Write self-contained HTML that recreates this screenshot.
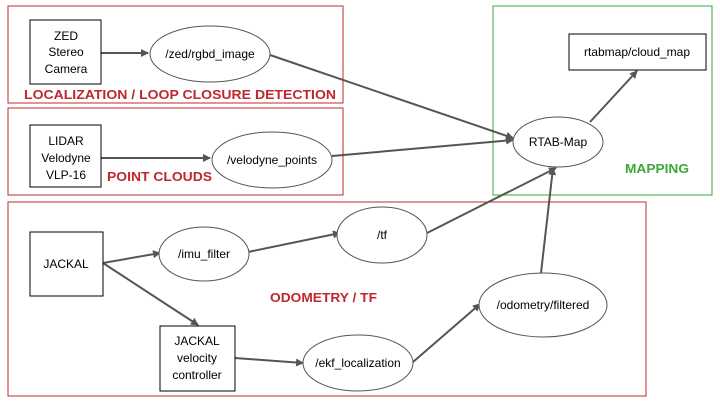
<!DOCTYPE html>
<html><head><meta charset="utf-8"><style>
html,body{margin:0;padding:0;background:#fff;}
svg{display:block;}
text{font-family:"Liberation Sans",sans-serif;}
.n{font-size:12px;fill:#000;}
.r{font-size:12.5px;font-weight:bold;fill:#c0282d;}
.g{font-size:12.5px;font-weight:bold;fill:#3aaa3a;}
.e{fill:#fff;stroke:#555;stroke-width:1;}
.b{fill:#fff;stroke:#000;stroke-width:1;}
.a{stroke:#555;stroke-width:2;fill:none;marker-end:url(#ar);}
</style></head><body>
<svg width="720" height="405" viewBox="0 0 720 405">
<defs><marker id="ar" markerWidth="8" markerHeight="8" refX="7" refY="4" orient="auto" markerUnits="userSpaceOnUse"><path d="M0,0 L8,4 L0,8 z" fill="#555"/></marker></defs>
<rect x="8" y="6" width="335" height="97" fill="none" stroke="#c0282d"/>
<rect x="8" y="108" width="335" height="87" fill="none" stroke="#c0282d"/>
<rect x="8" y="202" width="638" height="194" fill="none" stroke="#c0282d"/>
<rect x="493" y="6" width="219" height="189" fill="none" stroke="#3aaa3a"/>

<line class="a" x1="101" y1="53" x2="148" y2="53"/>
<line class="a" x1="270" y1="55" x2="513" y2="138"/>
<line class="a" x1="101" y1="158" x2="210" y2="158"/>
<line class="a" x1="332" y1="156" x2="513" y2="140"/>
<line class="a" x1="590" y1="122" x2="637" y2="71"/>
<line class="a" x1="103" y1="263" x2="160" y2="253"/>
<line class="a" x1="103" y1="263" x2="198" y2="325"/>
<line class="a" x1="248" y1="252" x2="340" y2="233"/>
<line class="a" x1="427" y1="233" x2="556" y2="168"/>
<line class="a" x1="541" y1="273" x2="553" y2="168"/>
<line class="a" x1="235" y1="358" x2="303" y2="363"/>
<line class="a" x1="413" y1="362" x2="480" y2="304"/>

<rect class="b" x="30" y="20" width="71" height="64"/>
<text class="n" text-anchor="middle" x="66" y="40">ZED</text>
<text class="n" text-anchor="middle" x="66" y="56">Stereo</text>
<text class="n" text-anchor="middle" x="66" y="73">Camera</text>
<ellipse class="e" cx="210" cy="54" rx="60" ry="28"/>
<text class="n" text-anchor="middle" x="210" y="58">/zed/rgbd_image</text>

<rect class="b" x="30" y="125" width="71" height="62"/>
<text class="n" text-anchor="middle" x="66" y="145">LIDAR</text>
<text class="n" text-anchor="middle" x="66" y="162">Velodyne</text>
<text class="n" text-anchor="middle" x="66" y="179">VLP-16</text>
<ellipse class="e" cx="272" cy="160" rx="60" ry="28"/>
<text class="n" text-anchor="middle" x="272" y="164">/velodyne_points</text>

<ellipse class="e" cx="558" cy="142" rx="45" ry="25"/>
<text class="n" text-anchor="middle" x="558" y="146">RTAB-Map</text>
<rect class="b" x="569" y="34" width="137" height="36"/>
<text class="n" text-anchor="middle" x="637" y="56">rtabmap/cloud_map</text>

<rect class="b" x="30" y="232" width="73" height="64"/>
<text class="n" text-anchor="middle" x="66" y="268">JACKAL</text>
<ellipse class="e" cx="204" cy="254" rx="45" ry="27"/>
<text class="n" text-anchor="middle" x="204" y="258">/imu_filter</text>
<ellipse class="e" cx="382" cy="235" rx="45" ry="28"/>
<text class="n" text-anchor="middle" x="382" y="239">/tf</text>
<ellipse class="e" cx="543" cy="305" rx="64" ry="32"/>
<text class="n" text-anchor="middle" x="543" y="309">/odometry/filtered</text>
<rect class="b" x="160" y="326" width="75" height="65"/>
<text class="n" text-anchor="middle" x="197" y="345">JACKAL</text>
<text class="n" text-anchor="middle" x="197" y="362">velocity</text>
<text class="n" text-anchor="middle" x="197" y="379">controller</text>
<ellipse class="e" cx="358" cy="363" rx="55" ry="28"/>
<text class="n" text-anchor="middle" x="358" y="367">/ekf_localization</text>

<text class="r" x="24" y="99" textLength="312" lengthAdjust="spacingAndGlyphs">LOCALIZATION / LOOP CLOSURE DETECTION</text>
<text class="r" x="107" y="181" textLength="105" lengthAdjust="spacingAndGlyphs">POINT CLOUDS</text>
<text class="r" x="270" y="302" textLength="107" lengthAdjust="spacingAndGlyphs">ODOMETRY / TF</text>
<text class="g" x="625" y="173" textLength="64" lengthAdjust="spacingAndGlyphs">MAPPING</text>
</svg>
</body></html>
